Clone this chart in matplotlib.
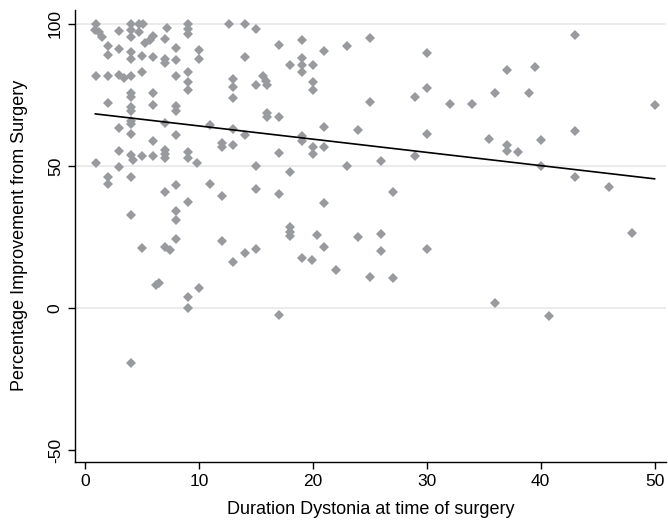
import numpy as np
import matplotlib
matplotlib.use("Agg")
import matplotlib.pyplot as plt

plt.rcParams['font.family'] = ['Liberation Sans', 'DejaVu Sans']

# duration of dystonia (years) and percentage improvement
duration = [
    1, 0.9, 1.2, 1.5, 1, 1,
    2, 2, 2, 2, 2, 2,
    3, 3, 3, 3.4, 3, 3, 3,
    4, 4, 4, 4, 4, 4, 4, 4, 4, 4, 4, 4, 4, 4, 4.2, 4, 4, 4,
    4.7, 5.1, 4.7, 5, 5, 5, 5,
    5.3, 5.7, 6, 6, 6, 6, 6, 6, 6.2, 6.5,
    7.2, 7, 7, 7, 7, 7, 7, 7, 7, 7, 7.45,
    8, 8, 8, 8, 8, 8, 8, 8, 8, 8,
    9, 9, 9, 9, 9, 9, 9, 9, 9, 9, 9,
    10, 10, 9.8, 10,
    11, 11,
    12, 12, 12, 12,
    12.6, 13, 13, 13, 13, 13, 13,
    14, 14, 14, 14,
    15, 15, 15, 15, 15,
    15.6, 15.9, 16, 16, 16,
    17, 17, 17, 17, 17,
    18, 18, 18, 18, 18,
    19, 19, 19, 19, 19, 19, 19,
    20, 20, 20, 20, 20, 20.4, 19.9,
    21, 21, 21, 21, 21,
    22, 23, 23, 24, 24,
    25, 25, 25, 26, 26, 26, 27, 27,
    29, 29, 30, 30, 30, 30,
    32, 34, 35.5, 36, 36, 37, 37, 37, 38, 39, 39.5,
    40, 40, 40.7, 43, 43, 43, 46, 48, 50,
]
improvement = [
    100, 98, 97, 95.5, 81.5, 51.2,
    92.2, 89, 81.5, 72.3, 46.2, 43.7,
    97.5, 91, 82, 81, 63.3, 55.2, 49.5,
    100, 98, 95.5, 90, 87.5, 81.5, 75.8, 74.4, 70.9, 69.5, 66, 64.6, 61.2, 53.9, 52.2, 46, 32.7, -19.3,
    100, 100, 97, 88.8, 83.2, 53.5, 21,
    93.2, 94.4, 95.6, 88.5, 75.7, 71.3, 58.8, 53.5, 8.1, 8.8,
    98.4, 94.6, 87.8, 86.4, 65, 55.6, 54.2, 52.7, 41, 21.6, 20.4,
    91.4, 87.3, 81.5, 71, 69.5, 60.9, 43.3, 34.3, 31, 24.2,
    100, 98.2, 96.5, 83, 79.7, 76.8, 55, 52.7, 37.4, 4, -0.1,
    90.8, 87.5, 50.9, 6.9,
    64.4, 43.7,
    58, 56.6, 39.4, 23.7,
    100, 80.5, 77.7, 73.8, 62.9, 57.4, 16.3,
    100, 88.5, 60.9, 19.5,
    98.1, 78.5, 50, 41.8, 20.7,
    81.7, 80, 78.5, 68.5, 67.1,
    92.6, 67.4, 54.7, 40.1, -2.5,
    85.6, 48, 28.6, 26.9, 25.4,
    94.4, 87.9, 85.6, 83.2, 60.6, 58.9, 17.5,
    85.6, 79.7, 76.8, 56.8, 54.2, 25.7, 16.9,
    90.3, 63.6, 56.6, 36.9, 21.6,
    13.4, 92.3, 50, 62.7, 24.9,
    95, 72.5, 11, 51.7, 26.1, 20.2, 40.8, 10.4,
    74.2, 53.5, 89.9, 77.3, 61.3, 20.7,
    71.8, 71.8, 59.4, 75.6, 1.9, 83.8, 57.4, 55.4, 55, 75.6, 84.7,
    59.2, 50, -2.8, 96.1, 62.4, 46.2, 42.7, 26.5, 71.5,
]

x = np.array(duration, dtype=float)
y = np.array(improvement, dtype=float)

# linear fit over the observed range
slope, intercept = np.polyfit(x, y, 1)
xfit = np.array([x.min(), x.max()])
yfit = intercept + slope * xfit

fig = plt.figure(figsize=(6.68, 5.21), dpi=100)
ax = fig.add_axes([0.1117, 0.1138, 0.8853, 0.867])

for g in [0, 50, 100]:
    ax.axhline(g, color='#e8e8e8', linewidth=1.2, zorder=0)

ax.plot(x, y, linestyle='none', marker='D', markersize=5.4,
        color='#999a9e', markeredgewidth=0, zorder=2)
ax.plot(xfit, yfit, color='black', linewidth=1.2, zorder=3)

ax.set_xlim(-0.92, 51.0)
ax.set_ylim(-54.1, 104.9)
ax.set_xticks([0, 10, 20, 30, 40, 50])
ax.set_yticks([-50, 0, 50, 100])
ax.set_yticklabels(['-50', '0', '50', '100'], rotation=90, va='center')

ax.spines['top'].set_visible(False)
ax.spines['right'].set_visible(False)
for s in ['left', 'bottom']:
    ax.spines[s].set_linewidth(1.0)
ax.tick_params(direction='out', length=5, width=1.0, labelsize=12.5)

ax.set_xlabel('Duration Dystonia at time of surgery', fontsize=13, labelpad=9)
ax.set_ylabel('Percentage Improvement from Surgery', fontsize=13, labelpad=14)

fig.savefig('out.png', dpi=100)
